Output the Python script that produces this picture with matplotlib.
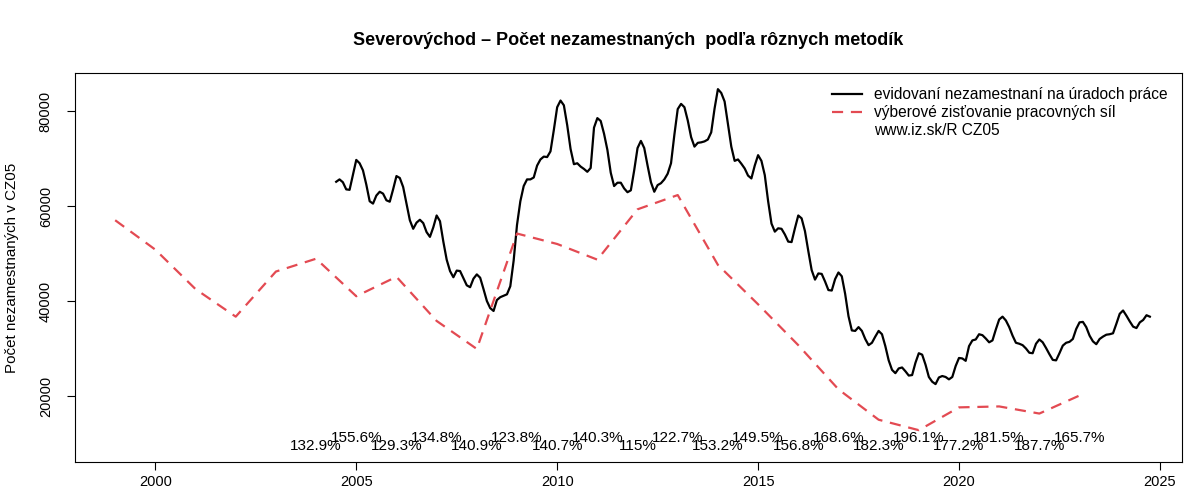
import matplotlib
matplotlib.use("Agg")
import matplotlib.pyplot as plt
import numpy as np
from matplotlib.lines import Line2D

plt.rcParams['font.family'] = ['Liberation Sans', 'DejaVu Sans']

# evidovani nezamestnani - monthly, from Jul 2004
reg_start = 2004.5
reg_values = [
    65100, 65600, 65000, 63500, 63400, 66500,
    69700, 69000, 67500, 64500, 61000, 60500, 62200, 63000, 62600, 61200, 60900, 63500,
    66300, 65900, 64000, 60500, 57000, 55200, 56500, 57100, 56400, 54500, 53500, 55500,
    58000, 56800, 52500, 48700, 46300, 45000, 46400, 46300, 44800, 43300, 42900, 44700,
    45600, 44900, 42500, 40000, 38500, 37900, 40200, 40800, 41100, 41400, 43100, 48500,
    56000, 61000, 64200, 65600, 65600, 66000, 68500, 69800, 70400, 70300, 71500, 76000,
    80800, 82200, 81200, 77000, 72000, 68800, 69000, 68300, 67800, 67200, 68000, 76500,
    78500, 77900, 75200, 71800, 67000, 64200, 64900, 64900, 63700, 62900, 63300, 67500,
    72200, 73700, 72200, 68500, 65000, 63000, 64400, 64800, 65600, 66800, 69000, 75000,
    80400, 81500, 80800, 78000, 74500, 72500, 73300, 73400, 73600, 74000, 75500, 80500,
    84600, 83800, 82000, 77200, 72500, 69500, 69800, 68900, 67900, 66400, 65800, 68500,
    70700, 69500, 66500, 61000, 56300, 54600, 55300, 55200, 54000, 52500, 52400, 55300,
    58000, 57400, 54700, 50500, 46500, 44500, 45800, 45700, 44100, 42300, 42200, 44600,
    46000, 45200, 41500, 36800, 33800, 33700, 34500, 33700, 32000, 30700, 31200, 32500,
    33700, 33000, 30500, 27500, 25500, 24800, 25800, 26000, 25200, 24300, 24400, 27000,
    29000, 28700, 26600, 24000, 23000, 22500, 23900, 24200, 24000, 23500, 24000, 26300,
    28000, 27900, 27400, 30500, 31700, 31900, 33000, 32800, 32100, 31300, 31700, 34000,
    36100, 36700, 35900, 34500, 32700, 31200, 31000, 30700, 30000, 29100, 29000, 31000,
    31900, 31300, 30100, 28800, 27600, 27500, 29000, 30600, 31200, 31400, 32000, 34100,
    35500, 35600, 34500, 32700, 31500, 30900, 32000, 32500, 32900, 33000, 33200, 35200,
    37300, 38000, 36900, 35700, 34600, 34300, 35500, 36000, 37000, 36700,
]

# vyberove zistovanie pracovnych sil - yearly
vzps_years = list(range(1999, 2024))
vzps_values = [57000, 50800, 42500, 36700, 46200, 48900, 41000, 45100, 35800, 29900,
               54200, 52000, 48700, 59300, 62300, 47600, 39300, 30700, 21400, 15000,
               12800, 17600, 17800, 16300, 20100]

ratio_years = list(range(2004, 2024))
ratio_labels = ["132.9%", "155.6%", "129.3%", "134.8%", "140.9%", "123.8%", "140.7%",
                "140.3%", "115%", "122.7%", "153.2%", "149.5%", "156.8%", "168.6%",
                "182.3%", "196.1%", "177.2%", "181.5%", "187.7%", "165.7%"]

reg_x = reg_start + np.arange(len(reg_values)) / 12.0

fig = plt.figure(figsize=(12, 5), dpi=100)
ax = fig.add_axes([0.0625, 0.076, 0.9225, 0.778])

red = "#E34A52"
ax.plot(reg_x, reg_values, color="black", lw=1.6)
ax.plot(vzps_years, vzps_values, color=red, lw=1.6, dashes=(5, 3.5))

for yr, lab in zip(ratio_years, ratio_labels):
    yv = 11100 if yr % 2 == 1 else 9400
    ax.text(yr, yv, lab, ha="center", va="center", fontsize=11)

ax.set_xlim(1998.0, 2025.55)
ax.set_ylim(6100, 88000)
ax.set_xticks(range(2000, 2026, 5))
ax.set_yticks([20000, 40000, 60000, 80000])
ax.set_yticklabels(["20000", "40000", "60000", "80000"], rotation=90, va="center")
ax.tick_params(axis="both", direction="out", length=6, width=0.8, labelsize=10.5)
ax.tick_params(axis="y", pad=10)
ax.tick_params(axis="x", pad=3)
for s in ax.spines.values():
    s.set_linewidth(0.8)

ax.set_ylabel("Počet nezamestnaných v CZ05", fontsize=10.9, labelpad=14)
ax.set_title("Severovýchod – Počet nezamestnaných  podľa rôznych metodík",
             fontsize=13, fontweight="bold", pad=20)

handles = [Line2D([], [], color="black", lw=1.6),
           Line2D([], [], color=red, lw=1.6, dashes=(5, 3.5)),
           Line2D([], [], color="none")]
ax.legend(handles, ["evidovaní nezamestnaní na úradoch práce",
                    "výberové zisťovanie pracovných síl",
                    "www.iz.sk/R CZ05"],
          loc="upper right", bbox_to_anchor=(1.0, 1.0), frameon=False,
          fontsize=11.2, handlelength=1.9, handletextpad=0.8,
          labelspacing=0.19, borderaxespad=0.5)

fig.savefig("out.png", dpi=100)
